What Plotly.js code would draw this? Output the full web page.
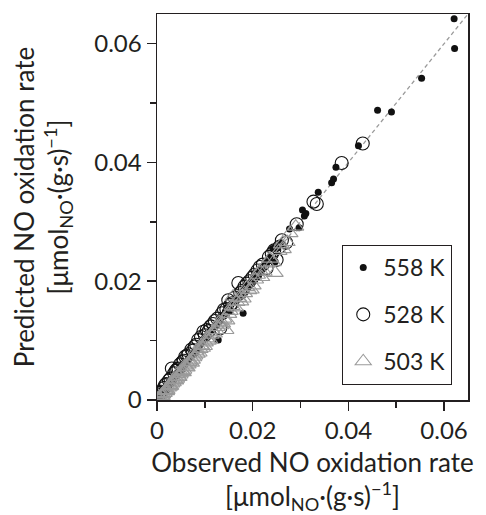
<!DOCTYPE html>
<html>
<head>
<meta charset="utf-8">
<script src="https://cdn.plot.ly/plotly-3.0.1.min.js"></script>
<style>html,body{margin:0;padding:0;background:#fff;}#chart{width:486px;height:515px;}</style>
</head>
<body>
<div id="chart"></div>
<script>
// Series labels
var seriesNames = ['558 K', '528 K', '503 K'];

// 558 K (filled dots): observed vs predicted
var obs558 = [0.0621,0.0622,0.0553,0.0461,0.0490,0.0421,0.0374,0.0365,0.0369,0.0337,0.0304,0.0308,0.0311,0.0277,0.0297,0.0242,
  0.0247,0.0236,0.0226,0.0219,0.0212,0.0205,0.0198,0.0189,0.0180,0.0174,0.0166,0.0160,0.0146,0.0152,0.0139,0.0128,0.0131,0.0121,
  0.0113,0.0107,0.0099,0.0092,0.0086,0.0078,0.0071,0.0066,0.0059,0.0053,0.0047,0.0042,0.0036,0.0031,0.0025,0.0021,0.0016,0.0011,0.0007,0.0004,
  0.0009,0.0018,0.0028,0.0039,0.0050,0.0061,0.0074,0.0083,0.0095,0.0103,0.0116,0.0125,0.0134,0.0143,0.0155,0.0163,0.0176,0.0185,
  0.0194,0.0202,0.0216,0.0229,0.0252,0.0258];
var pred558 = [0.0642,0.0592,0.0542,0.0488,0.0485,0.0428,0.0392,0.0366,0.0372,0.0350,0.0320,0.0310,0.0314,0.0288,0.0290,0.0255,
  0.0233,0.0241,0.0230,0.0224,0.0209,0.0213,0.0201,0.0193,0.0146,0.0180,0.0171,0.0166,0.0155,0.0150,0.0143,0.0101,0.0136,0.0125,
  0.0118,0.0111,0.0104,0.0096,0.0091,0.0082,0.0076,0.0069,0.0064,0.0057,0.0052,0.0046,0.0041,0.0035,0.0030,0.0025,0.0019,0.0015,0.0010,0.0006,
  0.0013,0.0022,0.0032,0.0042,0.0054,0.0064,0.0078,0.0084,0.0098,0.0107,0.0120,0.0128,0.0140,0.0149,0.0161,0.0168,0.0178,0.0192,
  0.0196,0.0206,0.0218,0.0231,0.0256,0.0265];

// 528 K (open circles)
var obs528 = [0.0430,0.0386,0.0327,0.0334,0.0292,0.0261,0.0270,0.0250,0.0240,0.0229,0.0221,0.0210,0.0199,0.0188,0.0178,0.0170,
  0.0157,0.0149,0.0140,0.0132,0.0121,0.0112,0.0104,0.0097,0.0086,0.0079,0.0072,0.0066,0.0059,0.0053,0.0048,0.0042,0.0036,0.0031,
  0.0025,0.0019,0.0014,0.0009,0.0004,
  0.0007,0.0017,0.0028,0.0039,0.0045,0.0056,0.0063,0.0075,0.0082,0.0092,0.0100,0.0108,0.0117,0.0126,0.0136,0.0145,0.0153,0.0162,
  0.0174,0.0183,0.0193,0.0204,0.0215,0.0234,0.0245,0.0256];
var pred528 = [0.0432,0.0399,0.0334,0.0330,0.0296,0.0269,0.0265,0.0236,0.0246,0.0222,0.0228,0.0218,0.0206,0.0196,0.0184,0.0197,
  0.0163,0.0168,0.0152,0.0121,0.0133,0.0124,0.0118,0.0115,0.0101,0.0090,0.0085,0.0077,0.0073,0.0064,0.0060,0.0052,0.0045,0.0053,
  0.0033,0.0027,0.0020,0.0014,0.0008,
  0.0012,0.0025,0.0036,0.0049,0.0053,0.0066,0.0074,0.0083,0.0093,0.0106,0.0109,0.0116,0.0128,0.0137,0.0146,0.0153,0.0160,0.0172,
  0.0180,0.0191,0.0200,0.0211,0.0224,0.0241,0.0252,0.0258];

// 503 K (open triangles)
var obs503 = [0.0003,0.0006,0.0009,0.0012,0.0015,0.0018,0.0021,0.0024,0.0027,0.0031,0.0034,0.0037,0.0041,0.0044,0.0048,0.0052,
  0.0056,0.0060,0.0065,0.0069,0.0074,0.0079,0.0084,0.0090,0.0095,0.0101,0.0107,0.0113,0.0120,0.0126,0.0133,0.0140,0.0146,0.0153,
  0.0159,0.0167,0.0175,0.0183,0.0192,0.0201,0.0210,0.0219,0.0229,0.0247,0.0255,0.0264,0.0278,0.0290,
  0.0005,0.0011,0.0016,0.0020,0.0026,0.0029,0.0033,0.0039,0.0043,0.0046,0.0050,0.0055,0.0058,0.0063,0.0067,0.0072,0.0077,0.0082,
  0.0088,0.0093,0.0099,0.0104,0.0110,0.0117,0.0123,0.0130,0.0137,0.0144,0.0150,0.0157,0.0164,0.0171,0.0180,0.0188,0.0197,0.0206,
  0.0215,0.0224,0.0236,0.0243,0.0260,0.0272];
var pred503 = [0.0002,0.0004,0.0008,0.0010,0.0012,0.0016,0.0017,0.0021,0.0023,0.0028,0.0030,0.0034,0.0036,0.0040,0.0043,0.0049,
  0.0051,0.0056,0.0060,0.0066,0.0068,0.0075,0.0078,0.0086,0.0088,0.0097,0.0100,0.0110,0.0112,0.0123,0.0126,0.0137,0.0134,0.0150,
  0.0174,0.0165,0.0166,0.0180,0.0185,0.0193,0.0211,0.0207,0.0230,0.0214,0.0251,0.0254,0.0281,0.0292,
  0.0005,0.0007,0.0015,0.0015,0.0025,0.0024,0.0033,0.0033,0.0044,0.0039,0.0046,0.0047,0.0058,0.0055,0.0064,0.0063,0.0072,0.0083,
  0.0080,0.0092,0.0091,0.0104,0.0102,0.0115,0.0118,0.0131,0.0129,0.0118,0.0145,0.0158,0.0156,0.0172,0.0171,0.0190,0.0186,0.0203,
  0.0218,0.0216,0.0238,0.0232,0.0262,0.0266];

// Parity line endpoints
var parityX = [0, 0.065];
var parityY = [0, 0.065];

var FONT = 'Lato, "Open Sans", sans-serif';
var INK = '#231f20';

var traces = [
  {x: parityX, y: parityY, mode: 'lines', showlegend: false, hoverinfo: 'skip',
   line: {color: '#9a9a9a', width: 1.3, dash: '4px,3px'}},
  {x: obs558, y: pred558, mode: 'markers', name: seriesNames[0], legendgroup: 'a',
   marker: {symbol: 'circle', size: 7, color: '#111'}},
  {x: obs528, y: pred528, mode: 'markers', name: seriesNames[1], legendgroup: 'b',
   marker: {symbol: 'circle-open', size: 13, color: '#111', line: {width: 1.1, color: '#111'}}},
  {x: obs503, y: pred503, mode: 'markers', name: seriesNames[2], legendgroup: 'c',
   marker: {symbol: 'triangle-up-open', size: 14, color: '#9a9a9a', line: {width: 1.1, color: '#9a9a9a'}}}
];

var axisCommon = {
  range: [0, 0.065], dtick: 0.02, tick0: 0,
  showline: true, linecolor: INK, linewidth: 1.5, mirror: true,
  ticks: 'outside', ticklen: 9, tickwidth: 1.5, tickcolor: INK,
  minor: {dtick: 0.01, tick0: 0, ticks: 'outside', ticklen: 6, tickwidth: 1.5, tickcolor: INK},
  showgrid: false, zeroline: false,
  tickfont: {family: FONT, size: 24, color: INK},
  automargin: false
};

var layout = {
  width: 486, height: 515,
  margin: {l: 157, r: 18, t: 14, b: 115},
  paper_bgcolor: '#fff', plot_bgcolor: '#fff',
  font: {family: FONT, color: INK},
  showlegend: true,
  legend: {
    x: 0.595, y: 0.402, xanchor: 'left', yanchor: 'top',
    bordercolor: INK, borderwidth: 1.2, bgcolor: '#fff',
    font: {family: FONT, size: 23, color: INK},
    traceorder: 'grouped', tracegroupgap: 14
  },
  xaxis: Object.assign({}, axisCommon, {
    title: {text: 'Observed NO oxidation rate<br>[μmol<sub>NO</sub>·(g·s)<sup>−1</sup>]',
            font: {family: FONT, size: 26, color: INK}, standoff: 14}
  }),
  yaxis: Object.assign({}, axisCommon, {
    title: {text: 'Predicted NO oxidation rate<br>[μmol<sub>NO</sub>·(g·s)<sup>−1</sup>]',
            font: {family: FONT, size: 26, color: INK}, standoff: 18}
  })
};

Plotly.newPlot('chart', traces, layout, {displayModeBar: false, staticPlot: true});
</script>
</body>
</html>
